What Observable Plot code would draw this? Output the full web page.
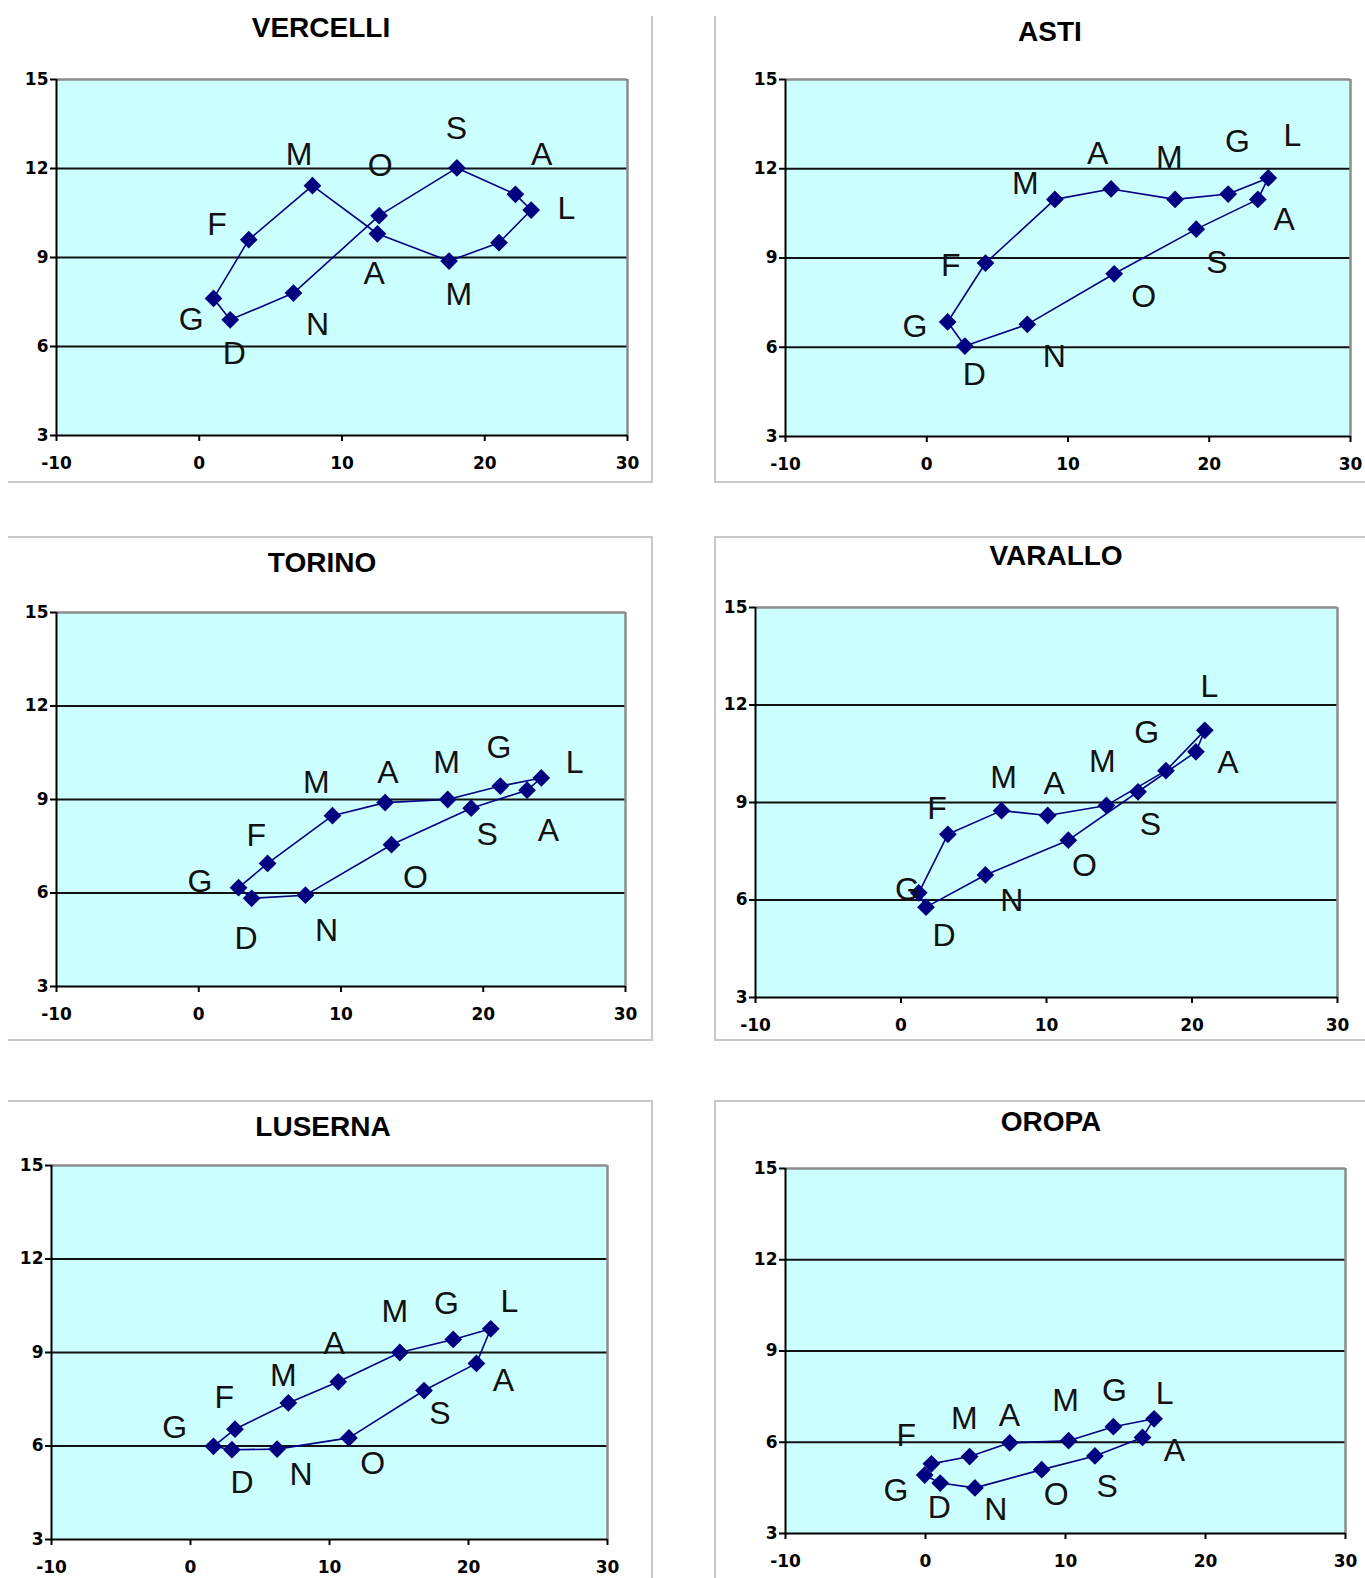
<!DOCTYPE html>
<html><head><meta charset="utf-8">
<script src="https://cdn.jsdelivr.net/npm/d3@7"></script>
<script src="https://cdn.jsdelivr.net/npm/@observablehq/plot@0.6"></script>
<style>
html,body{margin:0;padding:0;background:#fff;}
#page{position:relative;width:1365px;height:1578px;overflow:hidden;font-family:"Liberation Sans",Arial,sans-serif;}
.box{position:absolute;border:0 solid #c8c8c8;box-sizing:border-box;}
.title{position:absolute;font-family:"Liberation Sans",Arial,sans-serif;font-weight:bold;font-size:28px;line-height:28px;text-align:center;width:400px;color:#000;white-space:nowrap;}
#page svg{position:absolute;overflow:visible;}
</style></head>
<body><div id="page"></div>
<script>
// ---- data ----
const months = ["G","F","M","A","M","G","L","A","S","O","N","D"];
const xTicks = [-10, 0, 10, 20, 30];
const yTicks = [3, 6, 9, 12, 15];
const stationNames = ["VERCELLI","ASTI","TORINO","VARALLO","LUSERNA","OROPA"];

const vercelliX = [1.0, 3.47, 7.93, 12.48, 17.5, 21.0, 23.25, 22.15, 18.05, 12.6, 6.6, 2.17];
const vercelliY = [7.62, 9.6, 11.42, 9.8, 8.88, 9.5, 10.6, 11.13, 12.02, 10.41, 7.8, 6.9];
const vercelliLabelX = [-0.56, 1.25, 6.99, 12.26, 18.18, null, 25.72, 23.99, 18.02, 12.68, 8.28, 2.45];
const vercelliLabelY = [6.9, 10.09, 12.45, 8.46, 7.75, null, 10.63, 12.45, 13.34, 12.1, 6.74, 5.75];

const astiX = [1.48, 4.16, 9.07, 13.05, 17.58, 21.34, 24.18, 23.44, 19.08, 13.27, 7.12, 2.7];
const astiY = [6.85, 8.83, 10.97, 11.32, 10.97, 11.15, 11.69, 10.97, 9.97, 8.47, 6.77, 6.04];
const astiLabelX = [-0.83, 1.7, 6.98, 12.1, 17.18, 22.0, 25.88, 25.3, 20.55, 15.36, 9.03, 3.37];
const astiLabelY = [6.7, 8.74, 11.5, 12.49, 12.38, 12.9, 13.1, 10.27, 8.83, 7.69, 5.68, 5.07];

const torinoX = [2.8, 4.84, 9.4, 13.1, 17.5, 21.2, 24.08, 23.08, 19.15, 13.55, 7.5, 3.72];
const torinoY = [6.17, 6.95, 8.48, 8.9, 9.0, 9.43, 9.69, 9.3, 8.72, 7.55, 5.93, 5.83];
const torinoLabelX = [0.09, 4.05, 8.26, 13.3, 17.43, 21.1, 26.43, 24.59, 20.28, 15.24, 8.98, 3.33];
const torinoLabelY = [6.37, 7.85, 9.53, 9.85, 10.19, 10.65, 10.19, 7.99, 7.86, 6.5, 4.79, 4.53];

const varalloX = [1.22, 3.22, 6.91, 10.08, 14.12, 18.21, 20.88, 20.27, 16.29, 11.5, 5.8, 1.72];
const varalloY = [6.22, 8.02, 8.75, 8.6, 8.91, 9.98, 11.22, 10.56, 9.33, 7.84, 6.77, 5.78];
const varalloLabelX = [0.44, 2.48, 7.05, 10.53, 13.84, 16.88, 21.19, 22.47, 17.14, 12.6, 7.62, 2.96];
const varalloLabelY = [6.31, 8.82, 9.75, 9.58, 10.26, 11.14, 12.55, 10.23, 8.33, 7.04, 5.97, 4.89];

const lusernaX = [1.65, 3.2, 7.04, 10.63, 15.06, 18.9, 21.6, 20.57, 16.8, 11.4, 6.23, 2.98];
const lusernaY = [5.99, 6.54, 7.38, 8.06, 9.0, 9.42, 9.76, 8.65, 7.78, 6.26, 5.9, 5.88];
const lusernaLabelX = [-1.13, 2.43, 6.67, 10.34, 14.7, 18.42, 22.95, 22.52, 17.94, 13.1, 7.96, 3.71];
const lusernaLabelY = [6.58, 7.54, 8.24, 9.29, 10.31, 10.56, 10.62, 8.1, 7.04, 5.42, 5.07, 4.82];

const oropaX = [-0.06, 0.42, 3.15, 6.02, 10.22, 13.42, 16.33, 15.5, 12.1, 8.3, 3.53, 1.05];
const oropaY = [4.92, 5.29, 5.53, 5.98, 6.05, 6.51, 6.77, 6.16, 5.55, 5.1, 4.5, 4.66];
const oropaLabelX = [-2.11, -1.38, 2.78, 6.0, 10.0, 13.5, 17.08, 17.78, 12.98, 9.33, 5.02, 0.99];
const oropaLabelY = [4.42, 6.2, 6.77, 6.86, 7.38, 7.7, 7.6, 5.72, 4.53, 4.29, 3.78, 3.86];

// ---- layout (page pixels) ----
const layout = [
  {name: "VERCELLI", x: vercelliX, y: vercelliY, lx: vercelliLabelX, ly: vercelliLabelY,
   frame: [56, 627, 79, 435], title: [321, 38], mr: 20,
   box: {left: 8, top: 16, width: 645, height: 467, sides: ["right", "bottom"]}},
  {name: "ASTI", x: astiX, y: astiY, lx: astiLabelX, ly: astiLabelY,
   frame: [785, 1350, 79, 436], title: [1050, 42], mr: 14,
   box: {left: 714, top: 16, width: 700, height: 467, sides: ["left", "bottom"]}},
  {name: "TORINO", x: torinoX, y: torinoY, lx: torinoLabelX, ly: torinoLabelY,
   frame: [56, 625, 612, 986], title: [322, 573], mr: 20,
   box: {left: 8, top: 536, width: 645, height: 505, sides: ["top", "right", "bottom"]}},
  {name: "VARALLO", x: varalloX, y: varalloY, lx: varalloLabelX, ly: varalloLabelY,
   frame: [755, 1337, 607, 997], title: [1056, 566], mr: 20,
   box: {left: 714, top: 536, width: 700, height: 505, sides: ["left", "top", "bottom"]}},
  {name: "LUSERNA", x: lusernaX, y: lusernaY, lx: lusernaLabelX, ly: lusernaLabelY,
   frame: [51, 607, 1165, 1539], title: [323, 1137], mr: 20,
   box: {left: 8, top: 1100, width: 645, height: 600, sides: ["top", "right"]}},
  {name: "OROPA", x: oropaX, y: oropaY, lx: oropaLabelX, ly: oropaLabelY,
   frame: [785, 1345, 1168, 1533], title: [1051, 1132], mr: 20,
   box: {left: 714, top: 1100, width: 700, height: 600, sides: ["left", "top"]}}
];

const page = document.getElementById("page");
const navy = "#000080";
const fmt = d => String(d);
const tickFont = "'DejaVu Sans', Verdana, sans-serif";

for (const p of layout) {
  // panel box
  const box = document.createElement("div");
  box.className = "box";
  Object.assign(box.style, {left: p.box.left + "px", top: p.box.top + "px", width: p.box.width + "px", height: p.box.height + "px"});
  for (const s of p.box.sides) box.style["border" + s[0].toUpperCase() + s.slice(1) + "Width"] = "2px";
  page.appendChild(box);

  // title
  const t = document.createElement("div");
  t.className = "title";
  t.textContent = p.name;
  t.style.left = (p.title[0] - 200) + "px";
  t.style.top = (p.title[1] - 24) + "px";
  page.appendChild(t);

  const rows = months.map((m, i) => ({m, x: p.x[i], y: p.y[i]}));
  const loop = rows.concat([rows[0]]);
  const labels = months.map((m, i) => ({m, x: p.lx[i], y: p.ly[i]})).filter(d => d.x != null);

  const ml = 60, mt = 10, mb = 45, mr = p.mr;
  const [fx0, fx1, fy0, fy1] = p.frame;
  const svg = Plot.plot({
    width: fx1 - fx0 + ml + mr,
    height: fy1 - fy0 + mt + mb,
    marginLeft: ml, marginRight: mr, marginTop: mt, marginBottom: mb,
    style: {background: "transparent", overflow: "visible", fontFamily: tickFont, fontSize: "17px", fontWeight: "bold"},
    x: {domain: [-10, 30], label: null},
    y: {domain: [3, 15], label: null},
    marks: [
      Plot.frame({fill: "#ccffff"}),
      Plot.ruleY([6, 9, 12], {stroke: "#111", strokeWidth: 2.2}),
      Plot.ruleY([15], {stroke: "#8c8c8c", strokeWidth: 2.5}),
      Plot.ruleX([30], {stroke: "#8c8c8c", strokeWidth: 2.5}),
      Plot.ruleX([-10], {stroke: "#000", strokeWidth: 2}),
      Plot.ruleY([3], {stroke: "#000", strokeWidth: 2}),
      Plot.axisX(xTicks, {tickSize: 6, tickPadding: 15, tickFormat: fmt, fontFamily: tickFont, fontSize: 17, fontWeight: "bold", strokeWidth: 2, label: null}),
      Plot.axisY(yTicks, {tickSize: 6, tickPadding: 2, tickFormat: fmt, fontFamily: tickFont, fontSize: 17, fontWeight: "bold", strokeWidth: 2, label: null}),
      Plot.line(loop, {x: "x", y: "y", stroke: navy, strokeWidth: 1.6}),
      Plot.dot(rows, {x: "x", y: "y", symbol: "diamond2", r: 8, fill: navy}),
      Plot.text(labels, {x: "x", y: "y", text: "m", fontFamily: "'Liberation Sans', Arial, sans-serif", fontSize: 32, fontWeight: "normal", fill: "#111"})
    ]
  });
  svg.style.left = (fx0 - ml) + "px";
  svg.style.top = (fy0 - mt) + "px";
  svg.style.maxWidth = "none";
  page.appendChild(svg);
}
</script>
</body></html>
